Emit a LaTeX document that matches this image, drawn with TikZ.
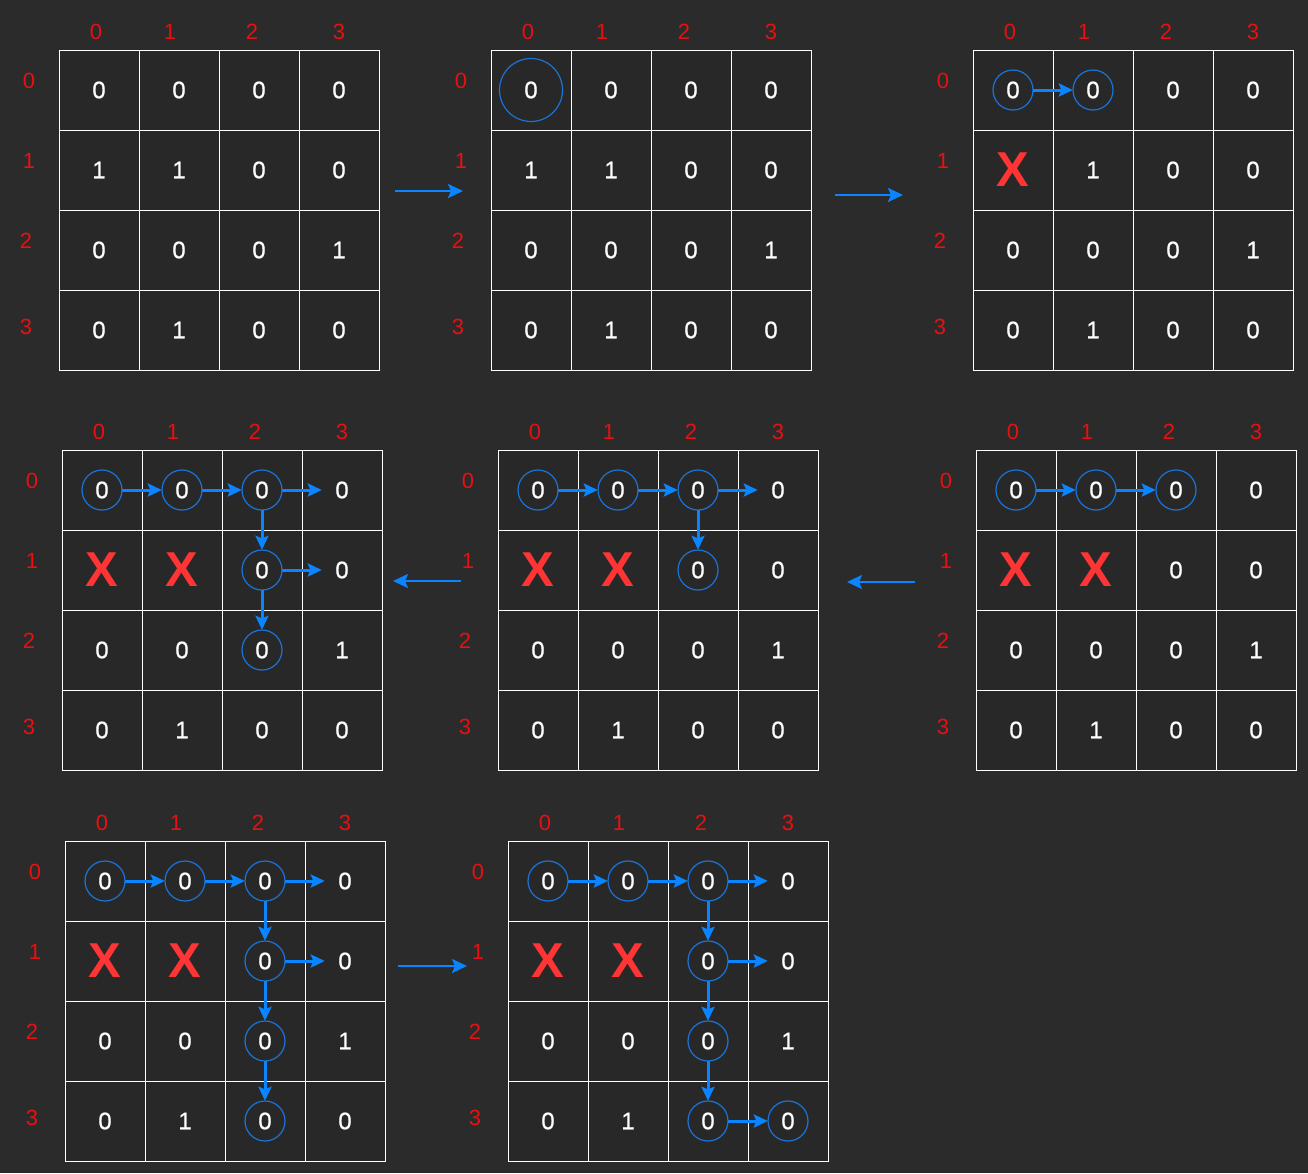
\documentclass[tikz,border=0pt]{standalone}
\usepackage{fontspec}
\setmainfont{Liberation Sans}
\newfontfamily\numfont[FakeBold=0.7]{Liberation Sans}
\usetikzlibrary{arrows.meta}
\definecolor{bg}{HTML}{2B2B2B}
\definecolor{cellbg}{HTML}{282828}
\definecolor{lbl}{HTML}{E81010}
\definecolor{ar}{HTML}{0A84FF}
\definecolor{circ}{HTML}{1A74DA}
\definecolor{xr}{HTML}{FF3535}
\tikzset{
  cellbox/.style={draw=white, line width=1pt, fill=cellbg, minimum size=80pt, inner sep=0pt},
  num/.style={circle, minimum size=40pt, inner sep=0pt, text=white, font=\numfont\fontsize{24}{24}\selectfont},
  idx/.style={text=lbl, inner sep=0pt, font=\fontsize{22}{22}\selectfont},
  seen/.style={circle, draw=circ, line width=1.2pt, minimum size=40pt, inner sep=0pt},
  bigseen/.style={circle, draw=circ, line width=1.2pt, minimum size=63pt, inner sep=0pt},
  xmark/.style={text=xr, inner sep=0pt, font=\fontsize{49}{49}\bfseries\selectfont},
  flow/.style={draw=ar, line width=3pt, shorten <=-0.5pt, -{Stealth[length=14pt,width=13pt,inset=2.5pt]}},
  hop/.style={draw=ar, line width=2.2pt, -{Stealth[length=15pt,width=14pt,inset=3pt]}}
}
% #1 id, #2 x0, #3 y0, #4 number of X marks in row 1
\newcommand\mygrid[4]{%
  \foreach \r/\row in {0/{0,0,0,0},1/{1,1,0,0},2/{0,0,0,1},3/{0,1,0,0}}{%
    \foreach \v [count=\cc from 0] in \row {%
      \node[cellbox] (#1-b-\r-\cc) at ({#2+40+80*\cc},{#3+40+80*\r}) {};
      \pgfmathtruncatemacro\isx{(\r==1)&&(\cc<#4)}%
      \ifnum\isx=1
        \node[xmark] (#1-x-\r-\cc) at (#1-b-\r-\cc) {X};
      \else
        \node[num] (#1-\r-\cc) at (#1-b-\r-\cc) {\v};
      \fi
    }%
  }%
  \foreach \i/\dx in {0/37,1/111,2/193,3/280}
    \node[idx] (#1-col-\i) at ({#2+\dx},{#3-18}) {\i};
  \foreach \i/\dx/\dy in {0/-30/31,1/-30/111,2/-33/191,3/-33/277}
    \node[idx] (#1-row-\i) at ({#2+\dx},{#3+\dy}) {\i};
}
\begin{document}
\begin{tikzpicture}[x=1pt,y=-1pt]
\fill[bg] (0,0) rectangle (1308,1173);
\useasboundingbox (0,0) rectangle (1308,1173);

% ---------- grid 1
\mygrid{ga}{59}{50}{0}
% ---------- grid 2
\mygrid{gb}{491}{50}{0}
\node[bigseen] (gb-s-0-0) at (gb-0-0) {};
% ---------- grid 3
\mygrid{gc}{973}{50}{1}
\foreach \p in {0-0,0-1} \node[seen] (gc-s-\p) at (gc-\p) {};
\draw[flow] (gc-0-0) -- (gc-0-1);
% ---------- grid 6 (row 2 right)
\mygrid{gf}{976}{450}{2}
\foreach \p in {0-0,0-1,0-2} \node[seen] (gf-s-\p) at (gf-\p) {};
\draw[flow] (gf-0-0) -- (gf-0-1);
\draw[flow] (gf-0-1) -- (gf-0-2);
% ---------- grid 5 (row 2 middle)
\mygrid{ge}{498}{450}{2}
\foreach \p in {0-0,0-1,0-2,1-2} \node[seen] (ge-s-\p) at (ge-\p) {};
\draw[flow] (ge-0-0) -- (ge-0-1);
\draw[flow] (ge-0-1) -- (ge-0-2);
\draw[flow] (ge-0-2) -- (ge-0-3);
\draw[flow] (ge-0-2) -- (ge-1-2);
% ---------- grid 4 (row 2 left)
\mygrid{gd}{62}{450}{2}
\foreach \p in {0-0,0-1,0-2,1-2,2-2} \node[seen] (gd-s-\p) at (gd-\p) {};
\draw[flow] (gd-0-0) -- (gd-0-1);
\draw[flow] (gd-0-1) -- (gd-0-2);
\draw[flow] (gd-0-2) -- (gd-0-3);
\draw[flow] (gd-0-2) -- (gd-1-2);
\draw[flow] (gd-1-2) -- (gd-1-3);
\draw[flow] (gd-1-2) -- (gd-2-2);
% ---------- grid 7
\mygrid{gg}{65}{841}{2}
\foreach \p in {0-0,0-1,0-2,1-2,2-2,3-2} \node[seen] (gg-s-\p) at (gg-\p) {};
\draw[flow] (gg-0-0) -- (gg-0-1);
\draw[flow] (gg-0-1) -- (gg-0-2);
\draw[flow] (gg-0-2) -- (gg-0-3);
\draw[flow] (gg-0-2) -- (gg-1-2);
\draw[flow] (gg-1-2) -- (gg-1-3);
\draw[flow] (gg-1-2) -- (gg-2-2);
\draw[flow] (gg-2-2) -- (gg-3-2);
% ---------- grid 8
\mygrid{gh}{508}{841}{2}
\foreach \p in {0-0,0-1,0-2,1-2,2-2,3-2,3-3} \node[seen] (gh-s-\p) at (gh-\p) {};
\draw[flow] (gh-0-0) -- (gh-0-1);
\draw[flow] (gh-0-1) -- (gh-0-2);
\draw[flow] (gh-0-2) -- (gh-0-3);
\draw[flow] (gh-0-2) -- (gh-1-2);
\draw[flow] (gh-1-2) -- (gh-1-3);
\draw[flow] (gh-1-2) -- (gh-2-2);
\draw[flow] (gh-2-2) -- (gh-3-2);
\draw[flow] (gh-3-2) -- (gh-3-3);

% ---------- arrows between stages
\coordinate (h1a) at (395,191);  \coordinate (h1b) at (463,191);
\coordinate (h2a) at (835,195);  \coordinate (h2b) at (903,195);
\coordinate (h3a) at (915,582);  \coordinate (h3b) at (847,582);
\coordinate (h4a) at (461,581);  \coordinate (h4b) at (393,581);
\coordinate (h5a) at (398,966);  \coordinate (h5b) at (467,966);
\draw[hop] (h1a) -- (h1b);
\draw[hop] (h2a) -- (h2b);
\draw[hop] (h3a) -- (h3b);
\draw[hop] (h4a) -- (h4b);
\draw[hop] (h5a) -- (h5b);
\end{tikzpicture}
\end{document}
